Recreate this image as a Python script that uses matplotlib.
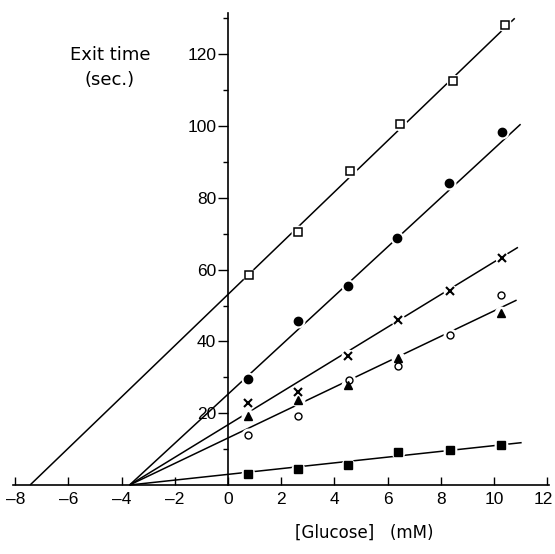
import matplotlib
matplotlib.use("Agg")
import matplotlib.pyplot as plt
from matplotlib.transforms import ScaledTranslation

# glucose concentrations (mM) and exit times (sec.) for each series
x_open_sq = [0.8, 2.65, 4.6, 6.45, 8.45, 10.4]
y_open_sq = [58.5, 70.4, 87.5, 100.5, 112.5, 128.0]

x_fill_circ = [0.75, 2.65, 4.5, 6.35, 8.3, 10.3]
y_fill_circ = [29.5, 45.6, 55.5, 68.7, 84.1, 98.3]

x_cross = [0.75, 2.65, 4.5, 6.4, 8.35, 10.3]
y_cross = [22.9, 26.0, 35.9, 46.0, 54.1, 63.3]

x_open_circ = [0.75, 2.65, 4.55, 6.4, 8.35, 10.25]
y_open_circ = [13.9, 19.1, 29.2, 33.1, 41.8, 52.9]

x_tri = [0.75, 2.65, 4.5, 6.4, 10.25]
y_tri = [19.3, 23.7, 27.9, 35.3, 47.8]

x_fill_sq = [0.75, 2.65, 4.5, 6.4, 8.35, 10.25]
y_fill_sq = [3.1, 4.5, 5.7, 9.3, 9.75, 11.2]

# fitted lines: start on the x axis at fit_x0, end at (fit_x1, fit_y1)
fit_x0 = [-7.44, -3.7, -3.7, -3.7, -3.7]
fit_x1 = [10.78, 11.0, 10.9, 10.85, 11.04]
fit_y1 = [130.0, 100.5, 66.2, 51.5, 11.8]

xticks = list(range(-8, 13, 2))
yticks = [20, 40, 60, 80, 100, 120]
yminor = [10, 30, 50, 70, 90, 110, 130]

fig = plt.figure(figsize=(5.55, 5.54), dpi=100)
ax = fig.add_axes([0, 0, 1, 1])
ax.set_xlim(-228 / 26.6, 327 / 26.6)
ax.set_ylim(-69 / 3.59, 485 / 3.59)

for x0, x1, y1 in zip(fit_x0, fit_x1, fit_y1):
    ax.plot([x0, x1], [0, y1], color="black", lw=1.1, zorder=1, solid_capstyle="butt")

series = [
    (x_open_sq, y_open_sq, dict(marker="s", ms=5.5, mfc="white", mec="black", mew=1.1)),
    (x_fill_circ, y_fill_circ, dict(marker="o", ms=6, mfc="black", mec="black")),
    (x_cross, y_cross, dict(marker="x", ms=6, mec="black", mew=1.5)),
    (x_open_circ, y_open_circ, dict(marker="o", ms=5, mfc="white", mec="black", mew=1.0)),
    (x_tri, y_tri, dict(marker="^", ms=6, mfc="black", mec="black")),
    (x_fill_sq, y_fill_sq, dict(marker="s", ms=5.5, mfc="black", mec="black")),
]

# white halo behind markers breaks the lines around each point
for xs, ys, st in series:
    ax.plot(xs, ys, ls="none", marker="o", ms=10, mfc="white", mec="none", zorder=2)
for xs, ys, st in series:
    ax.plot(xs, ys, ls="none", zorder=3, **st)

for s in ["top", "right"]:
    ax.spines[s].set_visible(False)
ax.spines["left"].set_position(("data", 0))
ax.spines["bottom"].set_position(("data", 0))
ax.spines["left"].set_bounds(0, 131.5)
ax.spines["bottom"].set_bounds(-8.1, 12.05)
ax.spines["left"].set_linewidth(1.2)
ax.spines["bottom"].set_linewidth(1.2)

tick_font = "Liberation Sans"
ax.set_xticks(xticks)
ax.set_xticklabels([str(t).replace("-", "\u2013") for t in xticks], family=tick_font, fontsize=12.5)
ax.set_yticks(yticks)
ax.set_yticklabels([str(t) for t in yticks], family=tick_font, fontsize=12.5)
ax.set_yticks(yminor, minor=True)
ax.tick_params(axis="x", direction="in", length=6, width=1.0, pad=5)
ax.tick_params(axis="y", which="major", direction="out", length=7, width=1.0, pad=1.5)
ax.tick_params(axis="y", which="minor", direction="out", length=3.6, width=1.0)

# keep the last x label inside the figure
last = ax.get_xticklabels()[-1]
last.set_transform(last.get_transform() + ScaledTranslation(-3 / 72, 0, fig.dpi_scale_trans))

ax.text(-4.44, 119.8, "Exit time", ha="center", va="center", fontsize=13)
ax.text(-4.44, 112.8, "(sec.)", ha="center", va="center", fontsize=13)
ax.text(5.11, -13.4, "[Glucose]   (mM)", ha="center", va="center", fontsize=12)

fig.savefig("out.png", dpi=100)
